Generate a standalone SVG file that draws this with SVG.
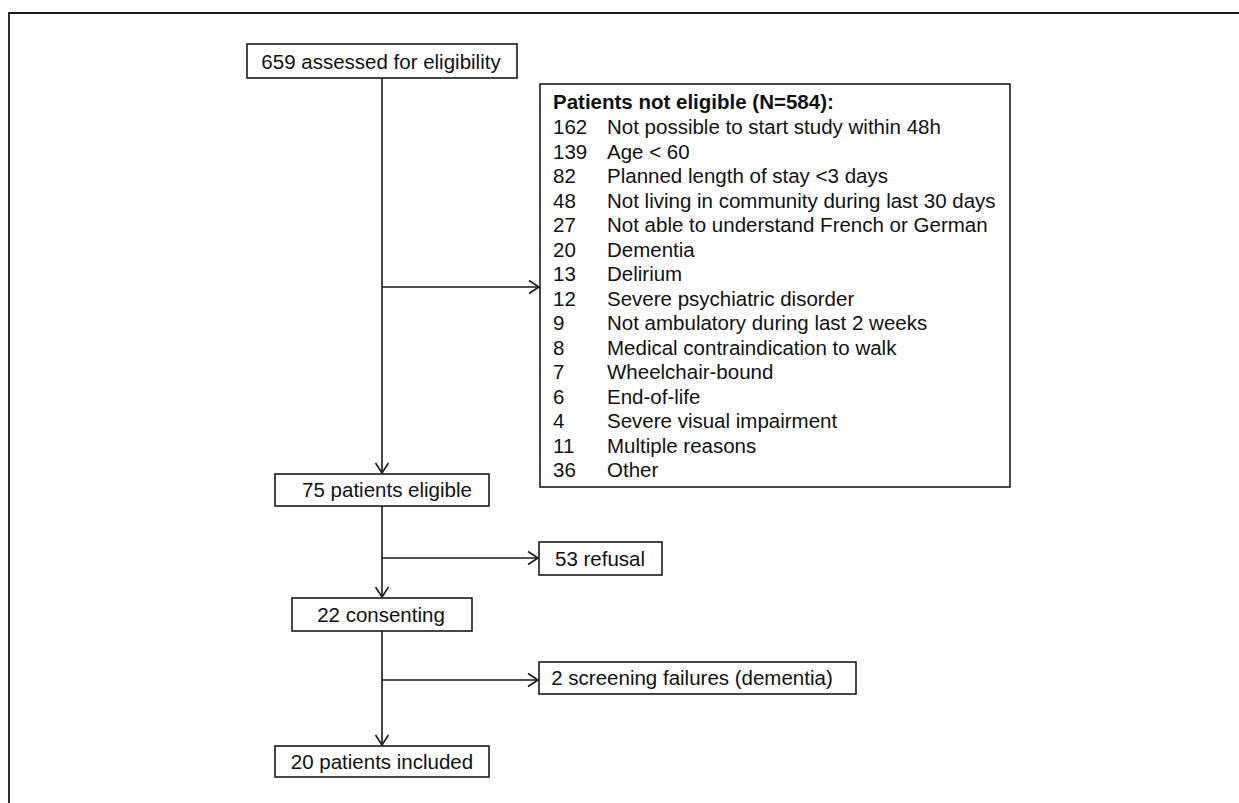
<svg xmlns="http://www.w3.org/2000/svg" width="1239" height="803" viewBox="0 0 1239 803">
<style>
.box{fill:#fff;stroke:#1a1a1a;stroke-width:1.6}
.t{font-family:"Liberation Sans",Arial,sans-serif;font-size:20.5px;fill:#111}
.b{font-weight:bold}
.c{stroke:#1a1a1a;stroke-width:1.6;fill:none}
.frame{stroke:#1a1a1a;stroke-width:1.8;fill:none}
</style>
<defs>
<marker id="arr" markerUnits="userSpaceOnUse" markerWidth="14" markerHeight="16" viewBox="-12 -8 14 16" refX="0" refY="0" orient="auto">
<path d="M-10,-6.5 L0,0 L-10,6.5" fill="none" stroke="#1a1a1a" stroke-width="1.6"/>
</marker>
</defs>
<rect width="1239" height="803" fill="#fff"/>
<path class="frame" d="M9,803 V13 H1239"/>
<g id="connectors">
<line class="c" x1="382" y1="78" x2="382" y2="473" marker-end="url(#arr)"/>
<line class="c" x1="382" y1="287" x2="539" y2="287" marker-end="url(#arr)"/>
<line class="c" x1="382" y1="506" x2="382" y2="597" marker-end="url(#arr)"/>
<line class="c" x1="382" y1="558" x2="538" y2="558" marker-end="url(#arr)"/>
<line class="c" x1="382" y1="631" x2="382" y2="745" marker-end="url(#arr)"/>
<line class="c" x1="382" y1="680" x2="538" y2="680" marker-end="url(#arr)"/>
</g>
<g id="n-assessed">
<rect class="box" x="247" y="44" width="270" height="34"/>
<text class="t" x="381" y="68.5" text-anchor="middle">659 assessed for eligibility</text>
</g>
<g id="n-noteligible">
<rect class="box" x="540" y="84" width="470" height="403"/>
<text class="t b" x="553" y="109">Patients not eligible (N=584):</text>
<g class="t">
<text x="553" y="134">162</text><text x="607" y="134">Not possible to start study within 48h</text>
<text x="553" y="158.5">139</text><text x="607" y="158.5">Age &lt; 60</text>
<text x="553" y="183">82</text><text x="607" y="183">Planned length of stay &lt;3 days</text>
<text x="553" y="207.5">48</text><text x="607" y="207.5">Not living in community during last 30 days</text>
<text x="553" y="232">27</text><text x="607" y="232">Not able to understand French or German</text>
<text x="553" y="256.5">20</text><text x="607" y="256.5">Dementia</text>
<text x="553" y="281">13</text><text x="607" y="281">Delirium</text>
<text x="553" y="305.5">12</text><text x="607" y="305.5">Severe psychiatric disorder</text>
<text x="553" y="330">9</text><text x="607" y="330">Not ambulatory during last 2 weeks</text>
<text x="553" y="354.5">8</text><text x="607" y="354.5">Medical contraindication to walk</text>
<text x="553" y="379">7</text><text x="607" y="379">Wheelchair-bound</text>
<text x="553" y="403.5">6</text><text x="607" y="403.5">End-of-life</text>
<text x="553" y="428">4</text><text x="607" y="428">Severe visual impairment</text>
<text x="553" y="452.5">11</text><text x="607" y="452.5">Multiple reasons</text>
<text x="553" y="477">36</text><text x="607" y="477">Other</text>
</g>
</g>
<g id="n-eligible">
<rect class="box" x="275" y="474" width="214" height="32"/>
<text class="t" x="387" y="497" text-anchor="middle">75 patients eligible</text>
</g>
<g id="n-refusal">
<rect class="box" x="539" y="542" width="123" height="33"/>
<text class="t" x="600" y="565.5" text-anchor="middle">53 refusal</text>
</g>
<g id="n-consenting">
<rect class="box" x="292" y="598" width="180" height="33"/>
<text class="t" x="381" y="621.5" text-anchor="middle">22 consenting</text>
</g>
<g id="n-screening">
<rect class="box" x="539" y="662" width="317" height="32"/>
<text class="t" x="692" y="685" text-anchor="middle">2 screening failures (dementia)</text>
</g>
<g id="n-included">
<rect class="box" x="275" y="746" width="214" height="31"/>
<text class="t" x="382" y="768.5" text-anchor="middle">20 patients included</text>
</g>
</svg>
